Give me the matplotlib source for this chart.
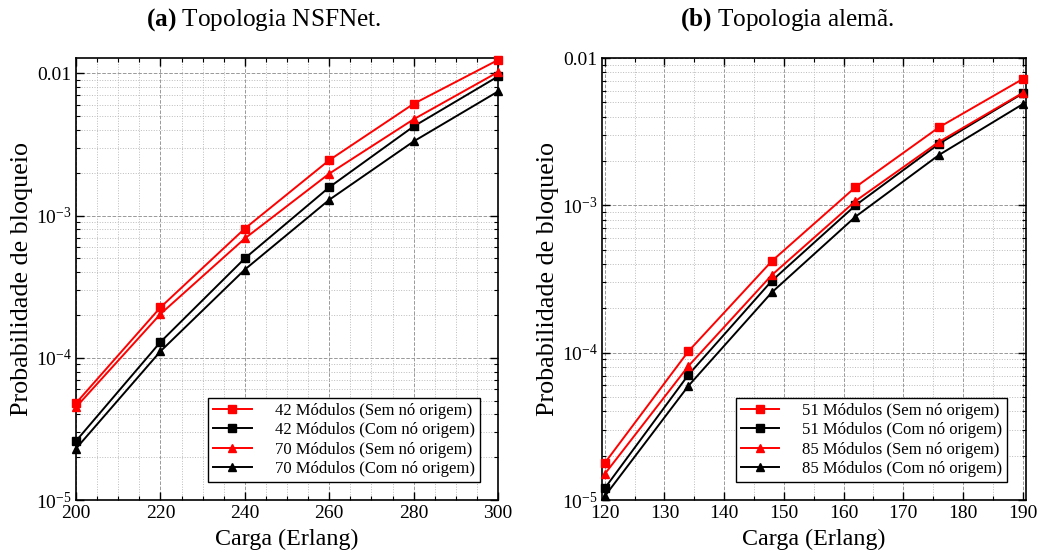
import numpy as np
import matplotlib
matplotlib.use("Agg")
import matplotlib.pyplot as plt
from matplotlib.ticker import MultipleLocator, FuncFormatter, NullFormatter, LogLocator

plt.rcParams['font.family'] = ['Liberation Serif', 'DejaVu Serif']
plt.rcParams['mathtext.fontset'] = 'custom'
plt.rcParams['mathtext.rm'] = 'Liberation Serif'
plt.rcParams['mathtext.it'] = 'Liberation Serif:italic'
plt.rcParams['mathtext.bf'] = 'Liberation Serif:bold'

# (a) NSFNet
carga_a = [200, 220, 240, 260, 280, 300]
a_42_sem = [4.8e-5, 2.26e-4, 8.1e-4, 2.45e-3, 6.1e-3, 1.24e-2]
a_42_com = [2.6e-5, 1.29e-4, 5.0e-4, 1.58e-3, 4.23e-3, 9.5e-3]
a_70_sem = [4.5e-5, 2.03e-4, 6.9e-4, 1.97e-3, 4.75e-3, 1.02e-2]
a_70_com = [2.3e-5, 1.11e-4, 4.17e-4, 1.29e-3, 3.32e-3, 7.45e-3]
labels_a = ["42 Módulos (Sem nó origem)", "42 Módulos (Com nó origem)",
            "70 Módulos (Sem nó origem)", "70 Módulos (Com nó origem)"]

# (b) alemã
carga_b = [120, 134, 148, 162, 176, 190]
b_51_sem = [1.78e-5, 1.02e-4, 4.19e-4, 1.33e-3, 3.39e-3, 7.2e-3]
b_51_com = [1.2e-5, 7.06e-5, 3.08e-4, 1.0e-3, 2.62e-3, 5.75e-3]
b_85_sem = [1.5e-5, 8.1e-5, 3.37e-4, 1.07e-3, 2.7e-3, 5.8e-3]
b_85_com = [1.06e-5, 5.94e-5, 2.57e-4, 8.38e-4, 2.2e-3, 4.86e-3]
labels_b = ["51 Módulos (Sem nó origem)", "51 Módulos (Com nó origem)",
            "85 Módulos (Sem nó origem)", "85 Módulos (Com nó origem)"]

styles = [('red', 's'), ('black', 's'), ('red', '^'), ('black', '^')]


def fmt_y(v, pos):
    e = int(round(np.log10(v)))
    if e == -2:
        return "0.01"
    return r"$10^{%d}$" % e


def setup(ax, x, series, labels, xlim, ylim, xmajor):
    for (c, m), y, lab in zip(styles, series, labels):
        ax.plot(x, y, color=c, marker=m, markersize=5.5, linewidth=1.4,
                label=lab, clip_on=False, zorder=3)
    ax.set_yscale('log')
    ax.set_xlim(*xlim)
    ax.set_ylim(*ylim)
    ax.xaxis.set_major_locator(MultipleLocator(xmajor))
    ax.xaxis.set_minor_locator(MultipleLocator(5))
    ax.yaxis.set_major_locator(LogLocator(base=10))
    ax.yaxis.set_minor_locator(LogLocator(base=10, subs=np.arange(2, 10)))
    ax.yaxis.set_major_formatter(FuncFormatter(fmt_y))
    ax.yaxis.set_minor_formatter(NullFormatter())
    ax.tick_params(which='both', direction='in', top=True, right=True,
                   labelsize=14)
    ax.tick_params(axis='y', pad=3)
    ax.tick_params(which='major', length=6, width=1)
    ax.tick_params(which='minor', length=3, width=0.8)
    ax.grid(which='major', linestyle='--', color='#999999', linewidth=0.7)
    ax.grid(which='minor', linestyle=':', color='#bbbbbb', linewidth=0.7)
    for s in ax.spines.values():
        s.set_linewidth(1.2)
    ax.set_xlabel("Carga (Erlang)", fontsize=17.3, labelpad=5)
    ax.set_ylabel("Probabilidade de bloqueio", fontsize=18.8, labelpad=2)
    leg = ax.legend(loc='lower right', fontsize=12, fancybox=False,
                    framealpha=1, edgecolor='black', handlelength=2.3,
                    handletextpad=1.4, borderpad=0.3, labelspacing=0.2,
                    borderaxespad=0, bbox_to_anchor=(0.957, 0.041))
    leg.get_frame().set_linewidth(1.0)


fig = plt.figure(figsize=(10.43, 5.59), dpi=100)
ax1 = fig.add_axes([0.0729, 0.1055, 0.4046, 0.7907])
ax2 = fig.add_axes([0.5769, 0.1055, 0.4065, 0.7907])

setup(ax1, carga_a, [a_42_sem, a_42_com, a_70_sem, a_70_com], labels_a,
      (200, 300), (1e-5, 0.0128), 20)
setup(ax2, carga_b, [b_51_sem, b_51_com, b_85_sem, b_85_com], labels_b,
      (119.5, 190.5), (1e-5, 0.01), 10)

fig.text(263.5 / 1043, 1 - 20 / 559, r"$\mathbf{(a)}$ Topologia NSFNet.",
         ha='center', va='center', fontsize=18.2)
fig.text(787 / 1043, 1 - 20 / 559, r"$\mathbf{(b)}$ Topologia alemã.",
         ha='center', va='center', fontsize=18.2)

fig.savefig("out.png", dpi=100)
